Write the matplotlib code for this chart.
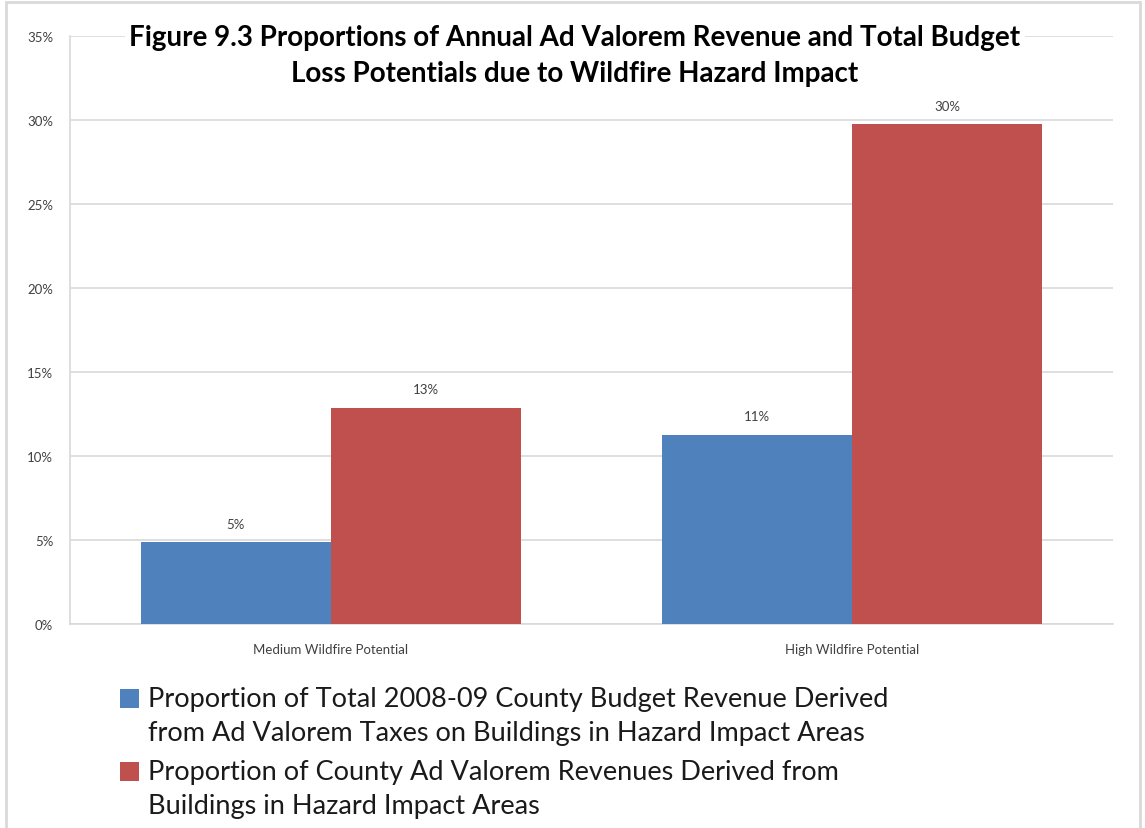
import matplotlib
matplotlib.use('Agg')
import numpy as np
from matplotlib import pyplot as plt
from matplotlib.patches import Rectangle

plt.rcParams['font.family'] = ['Lato', 'DejaVu Sans']

# values (percent)
categories = ['Medium Wildfire Potential', 'High Wildfire Potential']
budget_share = [4.88, 11.25]
advalorem_share = [12.86, 29.76]
budget_labels = ['5%', '11%']
advalorem_labels = ['13%', '30%']
series_names = [
    'Proportion of Total 2008-09 County Budget Revenue Derived\nfrom Ad Valorem Taxes on Buildings in Hazard Impact Areas',
    'Proportion of County Ad Valorem Revenues Derived from\nBuildings in Hazard Impact Areas',
]
title = ('Figure 9.3 Proportions of Annual Ad Valorem Revenue and Total Budget\n'
         'Loss Potentials due to Wildfire Hazard Impact')

BLUE = '#4F81BD'
RED = '#C0504D'
GRID = '#d9d9d9'

W, H = 1145, 829
fig = plt.figure(figsize=(W / 100, H / 100), dpi=100)


def fx(px):
    return px / W


def fy(py):
    return 1 - py / H


# axes placed in pixel coordinates of the reference
ax = fig.add_axes([fx(70), fy(625), (1113 - 70) / W, (625 - 37) / H])

x = np.arange(len(categories))
bw = 0.364
b1 = ax.bar(x - bw / 2, budget_share, bw, color=BLUE, zorder=3)
b2 = ax.bar(x + bw / 2, advalorem_share, bw, color=RED, zorder=3)

for bars, labs in ((b1, budget_labels), (b2, advalorem_labels)):
    for rect, lab in zip(bars, labs):
        ax.annotate(lab, (rect.get_x() + rect.get_width() / 2, rect.get_height()),
                    xytext=(0, 9), textcoords='offset points', ha='center', va='bottom',
                    fontsize=9.5, color='#404040')

ax.set_xlim(-0.5, 1.5)
ax.set_ylim(0, 35)
ax.set_yticks(np.arange(0, 36, 5))
ax.set_yticklabels([f'{v}%' for v in range(0, 36, 5)])
ax.set_xticks(x)
ax.set_xticklabels(categories)
ax.tick_params(length=0, labelsize=9.5, labelcolor='#404040')
ax.tick_params(axis='y', pad=12)
ax.tick_params(axis='x', pad=14)
ax.grid(axis='y', color=GRID, linewidth=1.2, zorder=0)
for s in ('top', 'right'):
    ax.spines[s].set_visible(False)
for s in ('left', 'bottom'):
    ax.spines[s].set_color(GRID)
    ax.spines[s].set_linewidth(1.2)

fig.text(fx(575), fy(56), title, ha='center', va='center', fontsize=20,
         fontweight='bold', linespacing=1.45,
         bbox=dict(facecolor='white', edgecolor='none', pad=3))

# legend: square aligned with the first line of each entry
for bars, name, top in ((b1, series_names[0], 690), (b2, series_names[1], 763)):
    fig.patches.append(Rectangle((fx(120), fy(top + 19)), 19 / W, 19 / H,
                                 transform=fig.transFigure,
                                 facecolor=bars[0].get_facecolor(), edgecolor='none'))
    fig.text(fx(148), fy(top - 3), name, ha='left', va='top', fontsize=19.5,
             linespacing=1.45, color='#1a1a1a')

# outer chart frame
fig.patches.append(Rectangle((fx(6), -0.05), (1140 - 6) / W, 1.05 - 3 / H,
                             transform=fig.transFigure, fill=False,
                             edgecolor=GRID, linewidth=2))

fig.savefig('out.png', dpi=100)
